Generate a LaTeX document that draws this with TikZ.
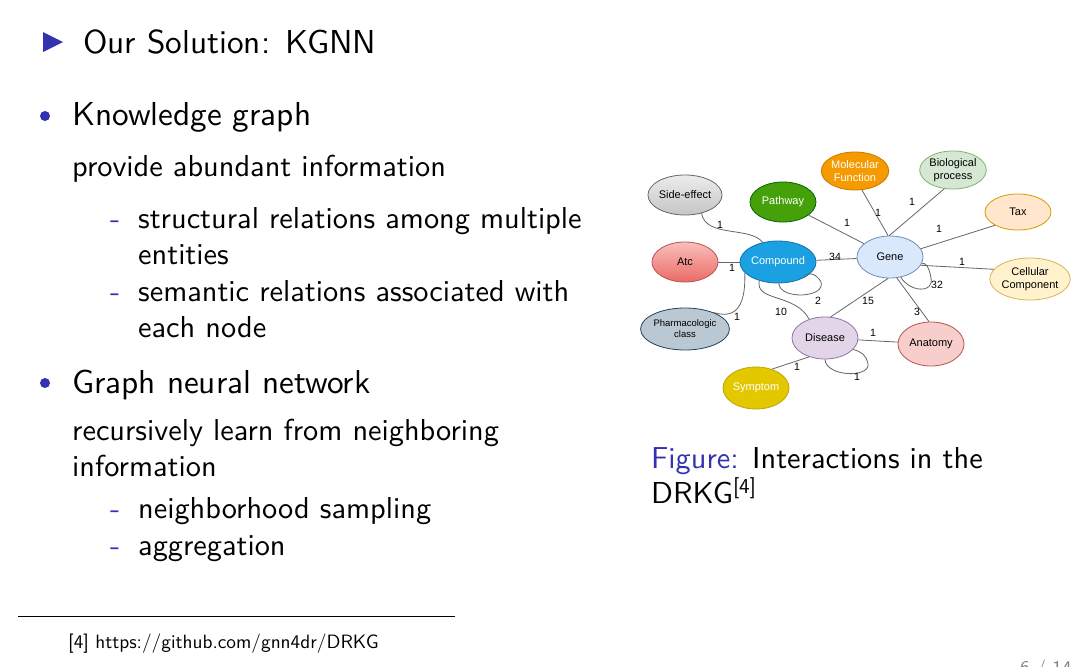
\documentclass[tikz,border=0pt]{standalone}
\usepackage{fontspec}
\setsansfont{lmsans10-regular.otf}
\newfontfamily\gfont{Liberation Sans}
\usetikzlibrary{shapes.geometric}
\definecolor{bstruct}{rgb}{0.2,0.2,0.7}
\definecolor{edgec}{HTML}{666666}
\tikzset{
  txt/.style={anchor=base west, inner sep=0, font=\sffamily\fontsize{30.3}{38}\selectfont},
  htxt/.style={anchor=base west, inner sep=0, font=\sffamily\fontsize{33.2}{40}\selectfont},
  ftxt/.style={anchor=base west, inner sep=0, font=\sffamily\fontsize{19.3}{24}\selectfont},
  ent/.style={ellipse, draw, line width=0.8pt, minimum width=66pt, minimum height=40pt, inner sep=0pt, font=\gfont\fontsize{11}{12.5}\selectfont, align=center},
  lbl/.style={font=\gfont\fontsize{10.5}{12}\selectfont, inner sep=0pt},
  edge/.style={draw=edgec, line width=0.8pt},
  dashmark/.style={anchor=base west, inner sep=0, font=\sffamily\fontsize{30.3}{38}\selectfont, text=bstruct},
}
\begin{document}
\begin{tikzpicture}[x=1pt,y=-1pt]
\useasboundingbox[fill=white] (0,0) rectangle (1080,667);

% ---------- left column ----------
\fill[bstruct] (43,32) -- (63,42) -- (43,52) -- cycle;
\node[htxt] (title) at (83,53) {Our Solution: KGNN};

\fill[bstruct] (45,116) circle (5);
\node[htxt] (kg) at (72,125) {Knowledge graph};
\node[txt] (kg1) at (72,176) {provide abundant information};
\node[dashmark] (d1) at (110,228) {-};
\node[txt] (kg2) at (138,228) {structural relations among multiple};
\node[txt] (kg3) at (138,264) {entities};
\node[dashmark] (d2) at (110,301) {-};
\node[txt] (kg4) at (138,301) {semantic relations associated with};
\node[txt] (kg5) at (138,337) {each node};

\fill[bstruct] (45,383) circle (5);
\node[htxt] (gnn) at (72,393) {Graph neural network};
\node[txt] (gnn1) at (72,440) {recursively learn from neighboring};
\node[txt] (gnn2) at (72,476) {information};
\node[dashmark] (d3) at (110,518) {-};
\node[txt] (gnn3) at (138,518) {neighborhood sampling};
\node[dashmark] (d4) at (110,555) {-};
\node[txt] (gnn4) at (138,555) {aggregation};

% ---------- caption ----------
\node[txt] (cap1) at (651,468) {\textcolor{bstruct}{Figure:} Interactions in the};
\node[txt] (cap2) at (651,503) {DRKG\textsuperscript{[4]}};

% ---------- footnote ----------
\coordinate (fl) at (18,616);
\coordinate (fr) at (455,616);
\draw[line width=1pt] (fl) -- (fr);
\node[ftxt] (fn) at (68,648) {[4] https://github.com/gnn4dr/DRKG};
\node[ftxt, text=gray] (pg) at (1020,674) {6 / 14};

% ---------- graph nodes ----------
\node[ent, draw=edgec, top color=gray!15, bottom color=gray!45] (se) at (685,195) {Side-effect};
\node[ent, draw=green!40!black, fill={rgb,255:red,69;green,160;blue,9}, text=white] (pw) at (783,202) {Pathway};
\node[ent, draw={rgb,255:red,200;green,120;blue,0}, fill={rgb,255:red,245;green,154;blue,0}, text=white, minimum height=38pt] (mf) at (855,171) {Molecular\\Function};
\node[ent, draw={rgb,255:red,130;green,179;blue,102}, fill={rgb,255:red,213;green,232;blue,212}, minimum height=38pt] (bp) at (953,170) {Biological\\process};
\node[ent, draw={rgb,255:red,215;green,155;blue,0}, fill={rgb,255:red,255;green,230;blue,204}, minimum height=36pt] (tax) at (1018,212) {Tax};
\node[ent, draw={rgb,255:red,184;green,84;blue,80}, top color={rgb,255:red,250;green,190;blue,188}, bottom color={rgb,255:red,234;green,107;blue,102}] (atc) at (685,262) {Atc};
\node[ent, draw={rgb,255:red,16;green,115;blue,175}, fill={rgb,255:red,27;green,161;blue,226}, text=white, minimum height=42pt] (cmp) at (778,262) {Compound};
\node[ent, draw={rgb,255:red,108;green,142;blue,191}, fill={rgb,255:red,218;green,232;blue,252}, minimum height=42pt] (gene) at (890,257) {Gene};
\node[ent, draw={rgb,255:red,214;green,182;blue,86}, fill={rgb,255:red,255;green,242;blue,204}, minimum height=42pt] (cc) at (1030,279) {Cellular\\Component};
\node[ent, draw={rgb,255:red,35;green,68;blue,93}, fill={rgb,255:red,186;green,200;blue,211}, minimum height=42pt, font=\gfont\fontsize{9.5}{11}\selectfont] (ph) at (685,329) {Pharmacologic\\class};
\node[ent, draw={rgb,255:red,150;green,115;blue,166}, fill={rgb,255:red,225;green,213;blue,231}, minimum height=42pt] (dis) at (825,338) {Disease};
\node[ent, draw={rgb,255:red,184;green,84;blue,80}, fill={rgb,255:red,248;green,206;blue,204}, minimum height=44pt] (ana) at (931,344) {Anatomy};
\node[ent, draw={rgb,255:red,190;green,165;blue,0}, fill={rgb,255:red,227;green,200;blue,0}, text=white, minimum height=42pt] (sym) at (756,388) {Symptom};

% ---------- graph edges ----------
\draw[edge] (se.-48) .. controls (706,238) and (750,226) .. (cmp.128);
\draw[edge] (pw) -- (gene);
\draw[edge] (mf.-70) -- (gene.95);
\draw[edge] (bp.-115) -- (gene.92);
\draw[edge] (tax.-150) -- (gene.15);
\draw[edge] (cc.165) -- (gene.-15);
\draw[edge] (atc) -- (cmp);
\draw[edge] (cmp) -- (gene);
\draw[edge] (cmp.-88) .. controls (780,300) and (826,298) .. (821,282) .. controls (816,272) and (805,272) .. (cmp.-30);
\draw[edge] (cmp.-162) .. controls (746,312) and (732,318) .. (ph.30);
\draw[edge] (cmp.-135) .. controls (755,302) and (795,293) .. (dis.130);
\draw[edge] (gene.-62) .. controls (910,292) and (934,294) .. (931,278) .. controls (929,266) and (925,262) .. (gene.-12);
\draw[edge] (gene.-95) -- (dis.75);
\draw[edge] (gene.-72) -- (ana.95);
\draw[edge] (dis) -- (ana);
\draw[edge] (dis.-90) .. controls (826,377) and (870,378) .. (868,364) .. controls (866,354) and (861,352) .. (dis.-22);
\draw[edge] (dis.-130) -- (sym.50);

% ---------- edge labels ----------
\node[lbl] (l1) at (720,225) {1};
\node[lbl] (l2) at (847,223) {1};
\node[lbl] (l3) at (878,213) {1};
\node[lbl] (l4) at (912,202) {1};
\node[lbl] (l5) at (939,229) {1};
\node[lbl] (l6) at (962,262) {1};
\node[lbl] (l7) at (835,257) {34};
\node[lbl] (l8) at (732,268) {1};
\node[lbl] (l9) at (818,301) {2};
\node[lbl] (l10) at (781,312) {10};
\node[lbl] (l11) at (868,301) {15};
\node[lbl] (l12) at (937,285) {32};
\node[lbl] (l13) at (917,312) {3};
\node[lbl] (l14) at (737,317) {1};
\node[lbl] (l15) at (873,333) {1};
\node[lbl] (l16) at (797,367) {1};
\node[lbl] (l17) at (857,377) {1};
\end{tikzpicture}
\end{document}
